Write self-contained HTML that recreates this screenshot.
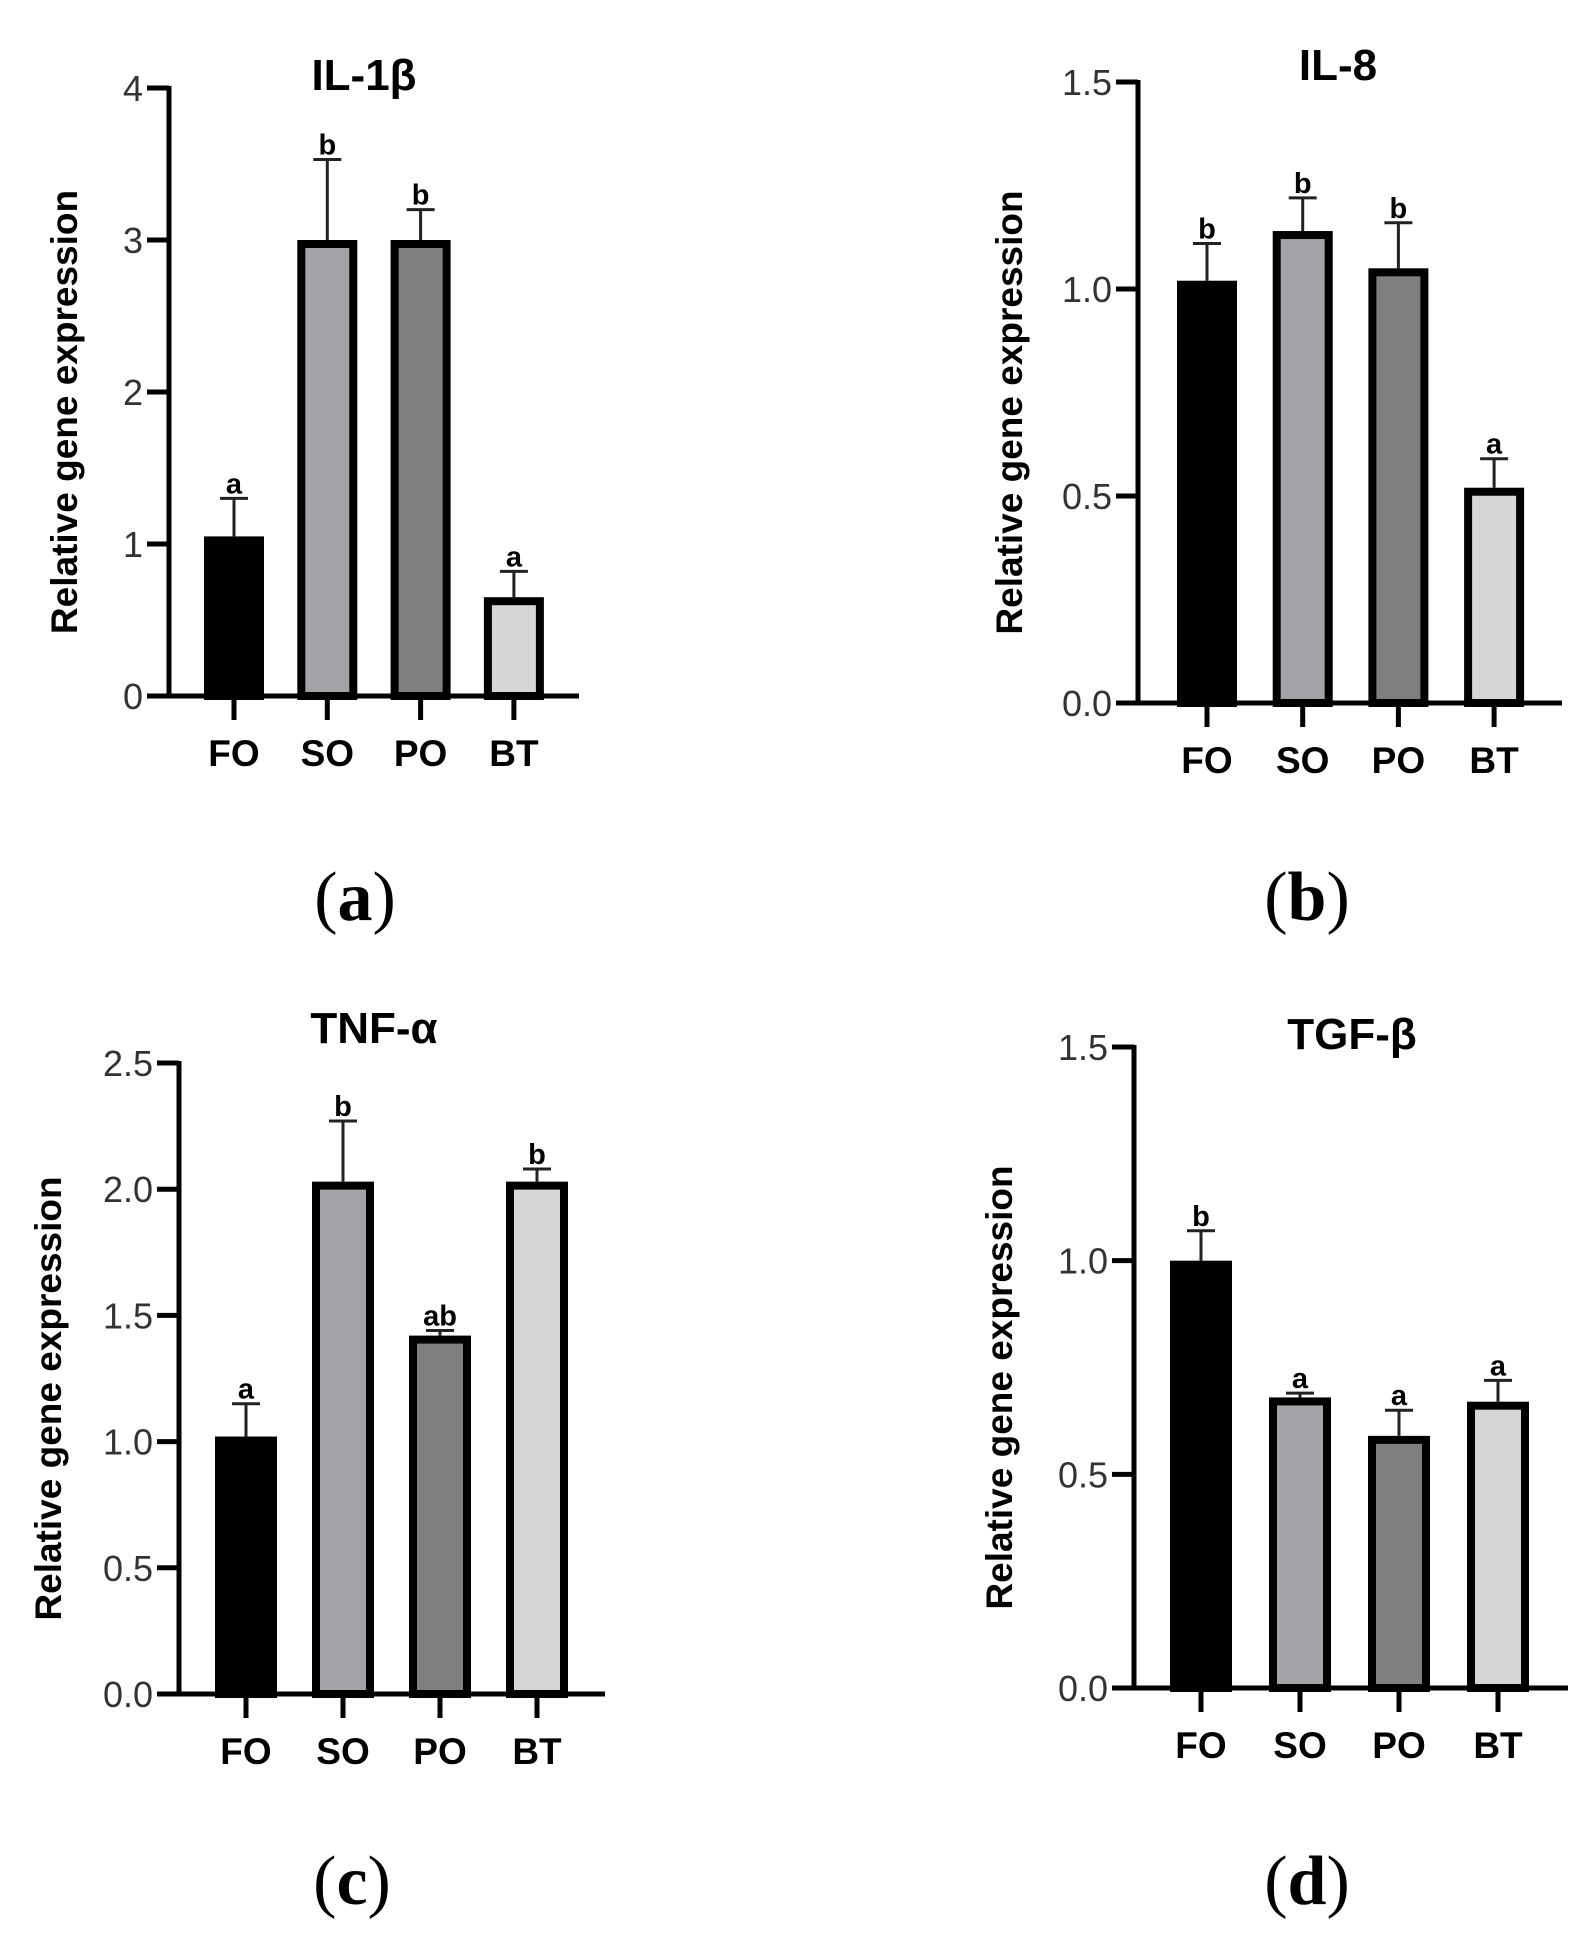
<!DOCTYPE html>
<html><head><meta charset="utf-8"><style>
html,body{margin:0;padding:0;background:#fff;}
svg{display:block;}
</style></head><body>
<svg id="fig" width="1593" height="1946" viewBox="0 0 1593 1946" xmlns="http://www.w3.org/2000/svg"></svg>
<script>
const categories = ["FO","SO","PO","BT"];
const fills = ["#000000","#a3a2a7","#7f7f7f","#d6d6d6"];
const il1bValues = [1.05, 3.0, 3.0, 0.65];
const il1bErrTop = [1.3, 3.53, 3.2, 0.82];
const il1bLetters = ["a","b","b","a"];
const il1bTicks = [0,1,2,3,4];
const il1bTickLabels = ["0","1","2","3","4"];
const il8Values = [1.02, 1.14, 1.05, 0.52];
const il8ErrTop = [1.11, 1.22, 1.16, 0.59];
const il8Letters = ["b","b","b","a"];
const il8Ticks = [0,0.5,1,1.5];
const il8TickLabels = ["0.0","0.5","1.0","1.5"];
const tnfValues = [1.02, 2.03, 1.42, 2.03];
const tnfErrTop = [1.15, 2.27, 1.44, 2.08];
const tnfLetters = ["a","b","ab","b"];
const tnfTicks = [0,0.5,1,1.5,2,2.5];
const tnfTickLabels = ["0.0","0.5","1.0","1.5","2.0","2.5"];
const tgfValues = [1.0, 0.68, 0.59, 0.67];
const tgfErrTop = [1.07, 0.69, 0.65, 0.72];
const tgfLetters = ["b","a","a","a"];
const tgfTicks = [0,0.5,1,1.5];
const tgfTickLabels = ["0.0","0.5","1.0","1.5"];

const NS = "http://www.w3.org/2000/svg";
const svg = document.getElementById("fig");
function mk(tag, attrs, parent, text){
  const e = document.createElementNS(NS, tag);
  for (const k in attrs) e.setAttribute(k, attrs[k]);
  if (text !== undefined) e.textContent = text;
  (parent || svg).appendChild(e);
  return e;
}
function panel(p){
  const g = mk("g", {});
  
  
  const yMax = p.ticks[p.ticks.length-1];
  const yS = v => p.y0 + (p.yTop - p.y0) * v / yMax;
  const title = mk("text", {x:p.titleX, y:p.titleY, "text-anchor":"middle", "font-family":"Liberation Sans, DejaVu Sans, sans-serif", "font-weight":"bold", "font-size":"44"}, g, p.title);
  
  
  const yt = mk("text", {x:0, y:0, transform:`translate(${p.ytX},${(p.yTop+p.y0)/2+20}) rotate(-90)`, "text-anchor":"middle", "font-family":"Liberation Sans, sans-serif", "font-weight":"bold", "font-size":"37"}, g, "Relative gene expression");
  
  
  p.ticks.forEach((t,i)=>{
    const y = yS(t);
    const tk = mk("line", {x1:p.ax-22, x2:p.ax, y1:y, y2:y, stroke:"#000", "stroke-width":5}, g);
    
    
    const tl = mk("text", {x:p.ax-26, y:y+13, "text-anchor":"end", "font-family":"Liberation Sans, sans-serif", "font-size":"36", fill:"#333"}, g, p.tickLabels[i]);
    
    
  });
  const bw = p.bw, step = p.step;
  categories.forEach((c,i)=>{
    const cx = p.firstX + step*i;
    const top = yS(p.values[i]);
    const et = yS(p.err[i]);
    const ev = mk("line", {x1:cx, x2:cx, y1:et, y2:top, stroke:"#222", "stroke-width":3}, g);
    
    
    const ec = mk("line", {x1:cx-14, x2:cx+14, y1:et, y2:et, stroke:"#222", "stroke-width":3}, g);
    
    
    const b = mk("rect", {x:cx-bw/2+4, y:top+4, width:bw-8, height:p.y0-top-4, fill:fills[i], stroke:"#000", "stroke-width":8}, g);
    
    
    const lt = mk("text", {x:cx, y:et-5, "text-anchor":"middle", "font-family":"Liberation Sans, sans-serif", "font-weight":"bold", "font-size":"29"}, g, p.letters[i]);
    
    
    const xt = mk("line", {x1:cx, x2:cx, y1:p.y0, y2:p.y0+24, stroke:"#000", "stroke-width":5}, g);
    
    
    const xl = mk("text", {x:cx, y:p.y0+70, "text-anchor":"middle", "font-family":"Liberation Sans, sans-serif", "font-weight":"bold", "font-size":"37"}, g, c);
    
    
  });
  const ya = mk("line", {x1:p.ax, x2:p.ax, y1:p.yTop-2, y2:p.y0+2, stroke:"#000", "stroke-width":5}, g);
  
  
  const xa = mk("line", {x1:p.ax-22, x2:p.xEnd, y1:p.y0, y2:p.y0, stroke:"#000", "stroke-width":5}, g);
  
  
  const lab = mk("text", {x:p.labX, y:p.labY, "text-anchor":"middle", "font-family":"Liberation Serif, serif", "font-size":"70"}, g);
  
  
  mk("tspan", {}, lab, "(");
  mk("tspan", {"font-weight":"bold"}, lab, p.letter);
  mk("tspan", {}, lab, ")");
}
panel({name:"panel-il-1b", title:"IL-1β", titleX:364, titleY:90, ytX:77, ax:169, yTop:88, y0:696, xEnd:579,
  firstX:234, step:93.3, bw:60, ticks:il1bTicks, tickLabels:il1bTickLabels, values:il1bValues, err:il1bErrTop, letters:il1bLetters, labX:355, labY:920, letter:"a"});
panel({name:"panel-il-8", title:"IL-8", titleX:1338, titleY:80, ytX:1022, ax:1138, yTop:82, y0:703, xEnd:1562,
  firstX:1207, step:95.7, bw:60, ticks:il8Ticks, tickLabels:il8TickLabels, values:il8Values, err:il8ErrTop, letters:il8Letters, labX:1307, labY:920, letter:"b"});
panel({name:"panel-tnf-a", title:"TNF-α", titleX:374, titleY:1043, ytX:61, ax:179, yTop:1063, y0:1694, xEnd:605,
  firstX:246, step:97, bw:62, ticks:tnfTicks, tickLabels:tnfTickLabels, values:tnfValues, err:tnfErrTop, letters:tnfLetters, labX:352, labY:1904, letter:"c"});
panel({name:"panel-tgf-b", title:"TGF-β", titleX:1352, titleY:1049, ytX:1012, ax:1134, yTop:1047, y0:1688, xEnd:1568,
  firstX:1201, step:99, bw:62, ticks:tgfTicks, tickLabels:tgfTickLabels, values:tgfValues, err:tgfErrTop, letters:tgfLetters, labX:1307, labY:1904, letter:"d"});
</script>
</body></html>
